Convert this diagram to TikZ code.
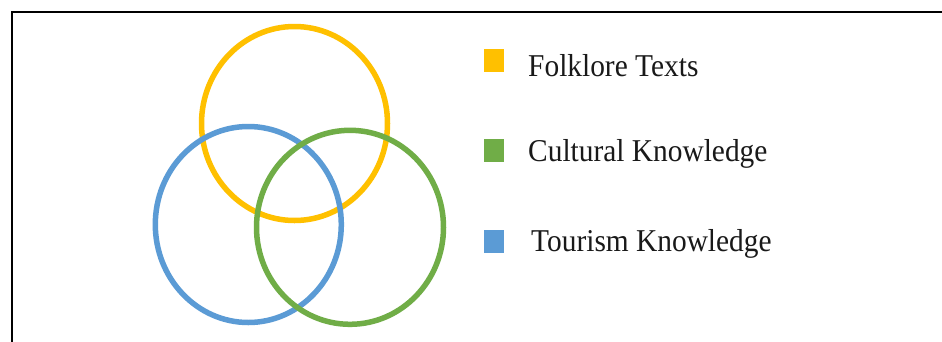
\documentclass[tikz,border=0pt]{standalone}
\usepackage{fontspec}
\usepackage{graphicx}
\setmainfont{Liberation Serif}
\definecolor{venyellow}{HTML}{FFC000}
\definecolor{vengreen}{HTML}{70AD47}
\definecolor{venblue}{HTML}{5B9BD5}
\newcommand{\keylabel}[1]{\scalebox{1}[1.08]{#1}}
\begin{document}
\begin{tikzpicture}[x=1pt,y=-1pt]
\tikzset{
  ring/.style={line width=5.5pt},
  keybox/.style={draw=none, minimum width=20pt, minimum height=23pt, inner sep=0pt, anchor=north west},
  keytext/.style={inner sep=0pt, anchor=base west, font=\fontsize{29.4}{34}\selectfont, text=black!90}
}
\useasboundingbox (0,0) rectangle (942,341);
\clip (0,0) rectangle (942,341);
\fill[white] (0,0) rectangle (942,341);
\draw[line width=2.5pt] (12,360) -- (12,12) -- (960,12);
% circles
\draw[ring, venyellow] (294.5,123.5) ellipse [x radius=93, y radius=97];
\draw[ring, venblue] (248.3,224.5) ellipse [x radius=93, y radius=98];
\draw[ring, vengreen] (350,227.3) ellipse [x radius=93.5, y radius=97];
% legend
\node[keybox, fill=venyellow] (ky) at (484,49) {};
\node[keybox, fill=vengreen] (kg) at (484,138.5) {};
\node[keybox, fill=venblue] (kb) at (484,230) {};
\node[keytext] (ty) at (528,76) {\keylabel{Folklore Texts}};
\node[keytext] (tg) at (528,161) {\keylabel{Cultural Knowledge}};
\node[keytext] (tb) at (531,251) {\keylabel{Tourism Knowledge}};
\end{tikzpicture}
\end{document}
